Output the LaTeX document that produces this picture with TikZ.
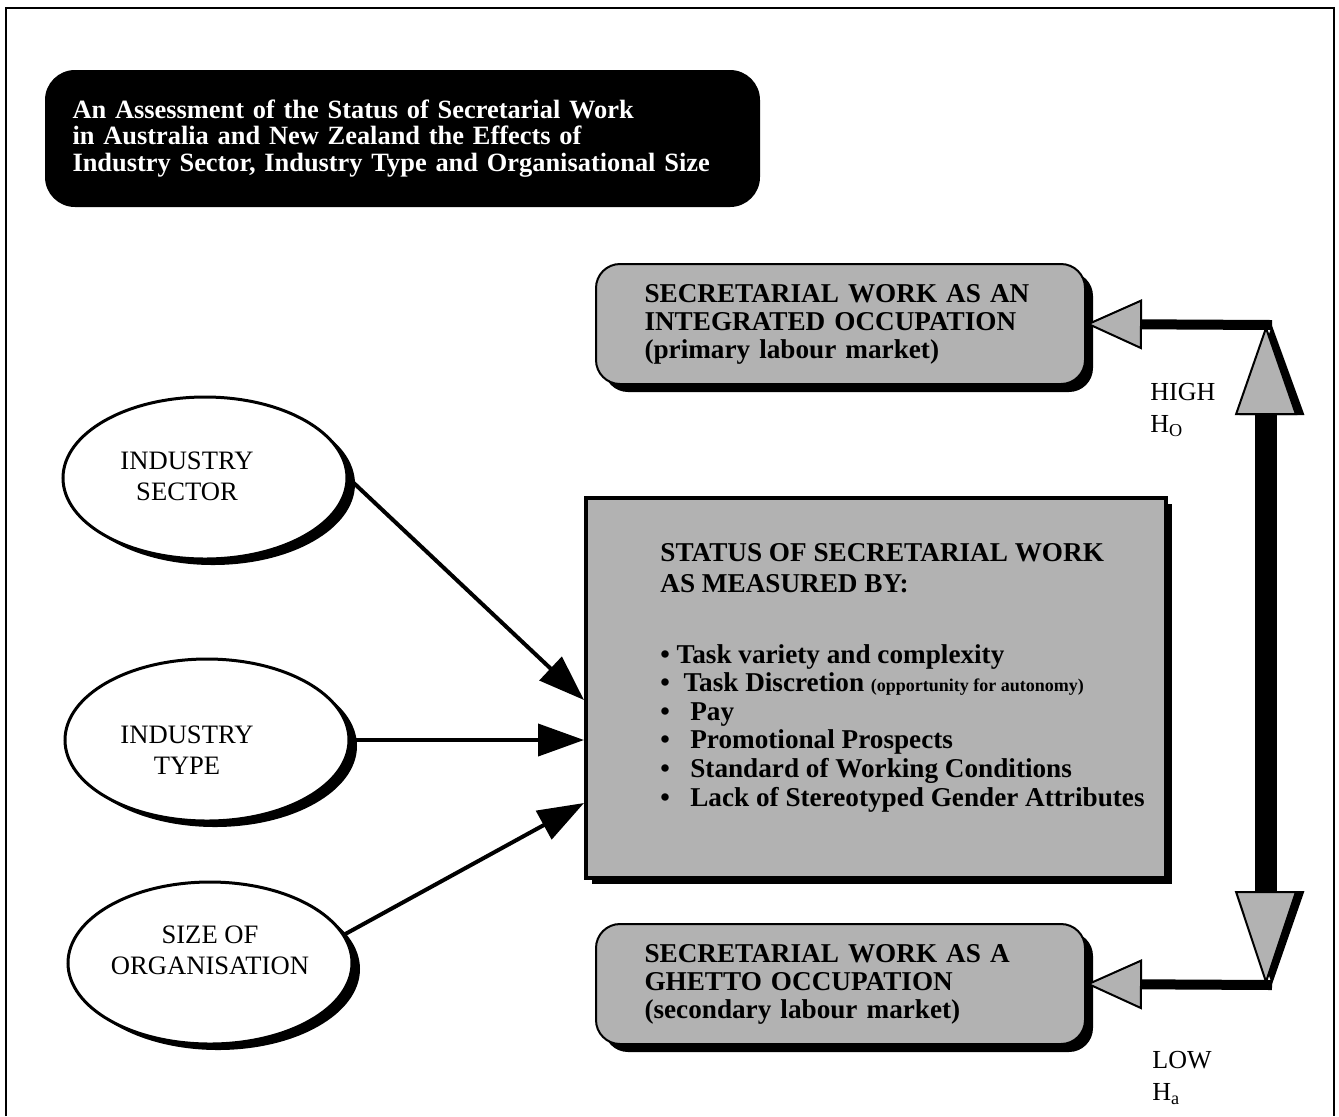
\documentclass[tikz,border=0pt]{standalone}
\usepackage{fontspec}
\setmainfont{Liberation Serif}
\usepackage{tikz}
\usetikzlibrary{arrows.meta,positioning,shapes.geometric,shadows}

\begin{document}
\begin{tikzpicture}[x=0.5pt,y=-0.5pt]
\tikzstyle{titlebox}=[rounded corners=15pt, fill=black, text=white, align=left, text width=330pt, minimum width=357.5pt, minimum height=68.5pt, font=\bfseries\fontsize{13.2}{13.4}\selectfont]
\tikzstyle{outcome}=[rounded corners=12pt, draw, line width=1pt, fill=black!30, drop shadow={shadow xshift=4pt, shadow yshift=-4pt, fill=black, opacity=1}, align=left, text width=196pt, minimum width=244.5pt, minimum height=60pt, font=\bfseries\fontsize{13.6}{14}\selectfont]
\tikzstyle{statusbox}=[draw, line width=2pt, fill=black!30, drop shadow={shadow xshift=3pt, shadow yshift=-3pt, fill=black, opacity=1}, minimum width=290pt, minimum height=190pt]
\tikzstyle{measures}=[anchor=north west, align=left, inner sep=0pt, font=\bfseries\fontsize{13.6}{14.3}\selectfont]
\tikzstyle{factor}=[ellipse, draw, line width=1.5pt, fill=white, drop shadow={shadow xshift=4pt, shadow yshift=-3pt, fill=black, opacity=1}, minimum width=142pt, minimum height=81pt, inner sep=0pt]
\tikzstyle{factortext}=[align=center, font=\fontsize{13.3}{15.5}\selectfont]
\tikzstyle{level}=[inner sep=0pt, font=\fontsize{13}{15}\selectfont]
\tikzstyle{feed}=[line width=2pt, -{Triangle[length=23pt, width=16pt]}]
\tikzstyle{flow}=[line width=5pt, -{Triangle[length=28pt, width=25pt, line width=1pt, fill=black!30, color=black]}]
\tikzstyle{hilo}=[line width=11pt, {Triangle[length=47pt, width=31pt, line width=1pt, fill=black!30, color=black]}-{Triangle[length=45pt, width=31pt, line width=1pt, fill=black!30, color=black]}]
\tikzstyle{hiloshade}=[line width=5pt, {Triangle[length=47pt, width=31pt]}-{Triangle[length=45pt, width=31pt]}]
\useasboundingbox (0,0) rectangle (1339,1116);
\draw[line width=1pt] (6,1116) -- (6,8) -- (1334,8) -- (1334,1116);

\draw node at (402.5,138.5) [titlebox] (title) {An Assessment of the Status of Secretarial Work\\in Australia and New Zealand the Effects of\\Industry Sector, Industry Type and Organisational Size};

\draw node at (840.5,324) [outcome] (integrated) {SECRETARIAL WORK AS AN\\INTEGRATED OCCUPATION\\(primary labour market)};
\draw node at (840.5,984) [outcome] (ghetto) {SECRETARIAL WORK AS A\\GHETTO OCCUPATION\\(secondary labour market)};

\draw node at (876,688) [statusbox] (status) {};
\node at (660,543) [measures] (statustext) {STATUS OF SECRETARIAL WORK\\[1.2pt]AS MEASURED BY:\\[21pt]
\textbullet\ Task variety and complexity\\
\textbullet\ \ Task Discretion {\fontsize{9}{10}\selectfont(opportunity for autonomy)}\\
\textbullet\ \ \ Pay\\
\textbullet\ \ \ Promotional Prospects\\
\textbullet\ \ \ Standard of Working Conditions\\
\textbullet\ \ \ Lack of Stereotyped Gender Attributes};

\draw node at (205,478) [factor] (sector) {};
\node at (187,476) [factortext] (sectortext) {INDUSTRY\\SECTOR};
\draw node at (207,740) [factor] (type) {};
\node at (187,750) [factortext] (typetext) {INDUSTRY\\TYPE};
\draw node at (210,963) [factor] (size) {};
\node at (210,950) [factortext] (sizetext) {SIZE OF\\ORGANISATION};

\coordinate (in1) at (584,700);
\coordinate (in2) at (584,740);
\coordinate (in3) at (584,803);
\draw[feed] (sector.east) -- (in1);
\draw[feed] (type.east) -- (in2);
\draw[feed] (size.12) -- (in3);

\coordinate (hiCorner) at (1266,325);
\coordinate (loCorner) at (1266,985);
\draw[hiloshade] ([xshift=3pt]loCorner) -- ([xshift=3pt]hiCorner);
\draw[hilo] (loCorner) -- (hiCorner);
\draw[flow] ([xshift=3pt]hiCorner) -- (integrated.east);
\draw[flow] ([xshift=3pt]loCorner) -- (ghetto.east);

\node at (1150,392) [level, anchor=west] (high) {HIGH};
\node [level, below=7pt of high.south west, anchor=north west] (ho) {H\textsubscript{O}};
\node at (1152,1060) [level, anchor=west] (low) {LOW};
\node [level, below=7pt of low.south west, anchor=north west] (ha) {H\textsubscript{a}};
\end{tikzpicture}
\end{document}
